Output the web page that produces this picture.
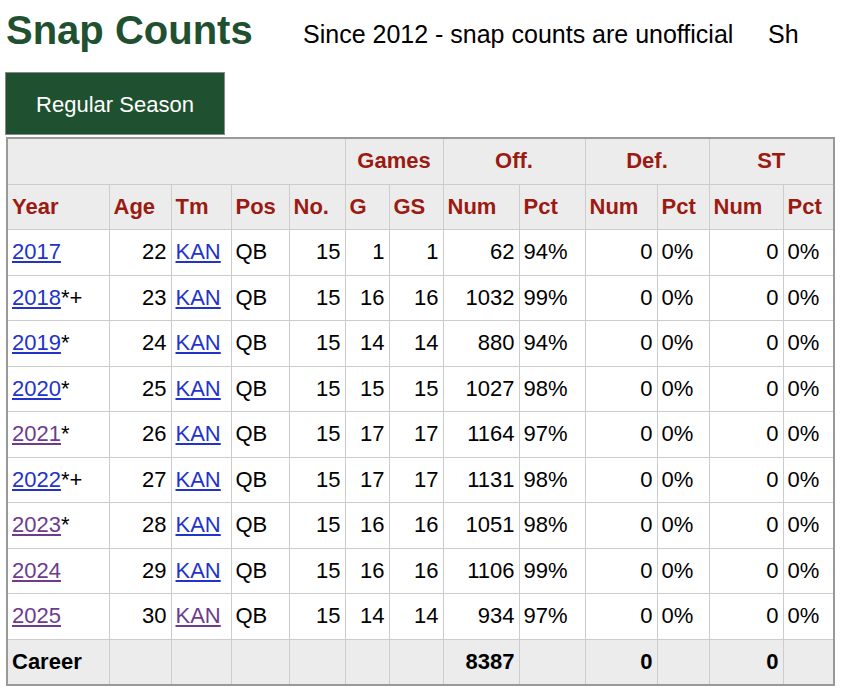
<!DOCTYPE html>
<html><head><meta charset="utf-8">
<script src="https://cdn.jsdelivr.net/npm/chart.js"></script>
<style>
body{margin:0;width:852px;height:700px;overflow:hidden;background:#fff;font-family:"Liberation Sans",Arial,sans-serif;position:relative}
#title{position:absolute;left:6px;top:8px;font-size:40px;font-weight:bold;color:#1f5130;margin:0;white-space:nowrap}
#sub{position:absolute;left:303px;top:20px;font-size:25px;color:#000;white-space:nowrap}
#tab{position:absolute;left:5px;top:72px;width:220px;height:63px;background:#1f5130;border:1px solid #888;color:#fff;font-size:22px;line-height:63px;text-align:center;box-sizing:border-box}
table{position:absolute;left:6px;top:137px;border-collapse:collapse;table-layout:fixed;font-size:22px}
td,th{border:1px solid #ccc;padding:0 4px;height:44.5px;white-space:nowrap;overflow:hidden}
table{border:2px solid #999}
th{background:#ececec;color:#9b1a12;font-weight:bold}
tr.h2 th{text-align:left}
td{text-align:right}
td.l{text-align:left}
a{color:#2233cc;text-decoration:underline}
a.v{color:#6e3b8e}
tr.car td{background:#ececec;font-weight:bold}
</style></head><body>
<div id="title">Snap Counts</div>
<div id="sub">Since 2012 - snap counts are unofficial&nbsp;&nbsp;&nbsp;&nbsp;&nbsp;Sh</div>
<div id="tab">Regular Season</div>
<table id="t"></table>
<script>
const years=["2017","2018","2019","2020","2021","2022","2023","2024","2025"];
const yearMarks=["","*+","*","*","*","*+","*","",""];
const visitedYear=[false,false,false,false,true,false,true,true,true];
const ages=[22,23,24,25,26,27,28,29,30];
const games=[1,16,14,15,17,17,16,16,14];
const starts=[1,16,14,15,17,17,16,16,14];
const offNum=[62,1032,880,1027,1164,1131,1051,1106,934];
const offPct=[94,99,94,98,97,98,98,99,97];
const widths=[102,62,60,58,56,44,54,76,66,72,52,74,51];
const t=document.getElementById('t');
let h='<colgroup>'+widths.map(w=>`<col style="width:${w}px">`).join('')+'</colgroup>';
h+='<tr><th colspan="5"></th><th colspan="2">Games</th><th colspan="2">Off.</th><th colspan="2">Def.</th><th colspan="2">ST</th></tr>';
h+='<tr class="h2">'+["Year","Age","Tm","Pos","No.","G","GS","Num","Pct","Num","Pct","Num","Pct"].map(s=>`<th>${s}</th>`).join('')+'</tr>';
years.forEach((y,i)=>{
 h+=`<tr><td class="l"><a class="${visitedYear[i]?'v':''}">${y}</a>${yearMarks[i]}</td><td>${ages[i]}</td><td class="l"><a class="${i==8?'v':''}">KAN</a></td><td class="l">QB</td><td>15</td><td>${games[i]}</td><td>${starts[i]}</td><td>${offNum[i]}</td><td class="l">${offPct[i]}%</td><td>0</td><td class="l">0%</td><td>0</td><td class="l">0%</td></tr>`;
});
const total=offNum.reduce((a,b)=>a+b,0);
h+=`<tr class="car"><td class="l">Career</td><td></td><td></td><td></td><td></td><td></td><td></td><td>${total}</td><td></td><td>0</td><td></td><td>0</td><td></td></tr>`;
t.innerHTML=h;
</script>
</body></html>
